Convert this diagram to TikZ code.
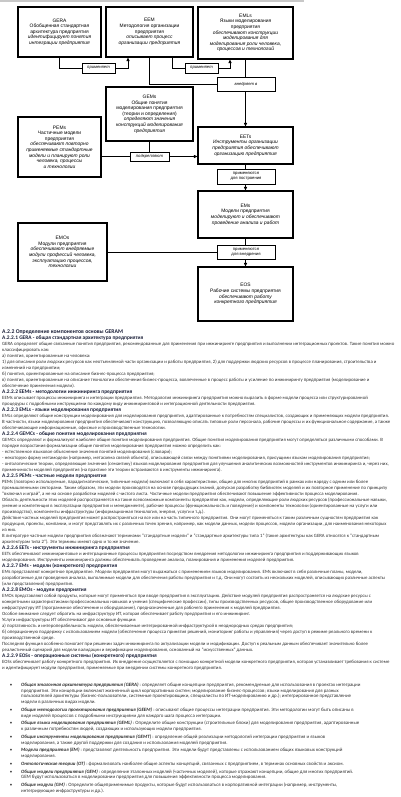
\documentclass[tikz,border=0pt]{standalone}
\usepackage{fontspec}
\setmainfont{Carlito}
\newfontfamily\diafont{Liberation Sans}
\usetikzlibrary{arrows.meta}
\definecolor{rulegray}{RGB}{200,200,200}
\definecolor{bodytext}{RGB}{45,45,45}
\definecolor{headtext}{RGB}{25,30,55}
\tikzset{
  blk/.style={draw=black, line width=1.1pt, align=center, inner sep=0pt,
    font=\diafont\fontsize{4.9}{5.6}\selectfont},
  lbl/.style={draw=black, line width=0.9pt, fill=white, align=center, inner sep=0pt,
    font=\diafont\itshape\fontsize{4.2}{4.6}\selectfont},
  wire/.style={line width=0.9pt},
  arr/.style={wire, -{Triangle[length=3.5pt,width=3pt]}},
  para/.style={anchor=north west, inner sep=0pt, align=left, text=bodytext},
}
\newcommand{\hd}[1]{{\bfseries\color{headtext}\fontsize{5.4}{6}\selectfont #1}}
\newcommand{\bl}[1]{\llap{\textbullet\hspace{9pt}}{\bfseries\itshape #1}}

\begin{document}
\begin{tikzpicture}[x=1pt, y=-1pt]
    \useasboundingbox (0,0) rectangle (400,797);
    \fill[rulegray] (0,0) rectangle (304,2);

    % blocks of the scheme
    \node[blk, minimum width=83pt, minimum height=50pt] (gera) at (59.5,32)
        {GERA\\Обобщенная стандартная\\архитектура предприятия\\
         \textit{идентифицирует понятия}\\\textit{интеграции предприятия}};
    \node[blk, minimum width=87pt, minimum height=50pt] (eem) at (149.5,32)
        {EEM\\Методология организации\\предприятия\\
         \textit{описывает процесс}\\\textit{организации предприятия}};
    \node[blk, minimum width=95pt, minimum height=52pt] (emls) at (245.5,33)
        {EMLs\\Языки моделирования\\предприятия\\
         \textit{обеспечивают конструкции}\\\textit{моделирования для}\\
         \textit{моделирования роли человека,}\\\textit{процессов и технологий}};
    \node[blk, minimum width=87pt, minimum height=54pt] (gems) at (149.5,114)
        {GEMs\\Общие понятия\\моделирования предприятия\\(теории и определения)\\
         \textit{определяют значения}\\\textit{конструкций моделирования}\\
         \textit{предприятия}};
    \node[blk, minimum width=83pt, minimum height=60pt] (pems) at (59.5,147)
        {PEMs\\Частичные модели\\предприятия\\
         \textit{обеспечивают повторно}\\\textit{применяемые стандартные}\\
         \textit{модели и планируют роли}\\\textit{человека, процессы}\\
         \textit{и технологии}};
    \node[blk, minimum width=95pt, minimum height=37pt] (eets) at (245.5,145.5)
        {EETs\\\textit{Инструменты организации}\\\textit{предприятия обеспечивают}\\
         \textit{организацию предприятия}};
    \node[blk, minimum width=95pt, minimum height=47pt] (ems) at (245.5,214.5)
        {EMs\\Модели предприятия\\\textit{моделируют и обеспечивают}\\
         \textit{проведение анализа и работ}};
    \node[blk, minimum width=89pt, minimum height=58pt] (emos) at (62.5,252)
        {EMOs\\Модули предприятия\\\textit{обеспечивают внедряемые}\\
         \textit{модули профессий человека,}\\\textit{эксплуатацию процессов,}\\
         \textit{технологии}};
    \node[blk, minimum width=95pt, minimum height=54pt] (eos) at (245.5,294)
        {EOS\\Рабочие системы предприятия\\\textit{обеспечивают работу}\\
         \textit{конкретного предприятия}};

    % labels on the links
    \node[lbl, minimum width=33pt, minimum height=10pt] (prim1) at (98.5,68) {применяет};
    \node[lbl, minimum width=33pt, minimum height=10pt] (prim2) at (201.5,68) {применяет};
    \node[lbl, minimum width=58pt, minimum height=14pt] (vnedr) at (246,84) {внедряет в};
    \node[lbl, minimum width=39pt, minimum height=9pt] (podkr) at (149.5,156.5) {подкрепляют};
    \node[lbl, minimum width=58pt, minimum height=15pt, font=\diafont\fontsize{4.2}{4.8}\selectfont]
        (postr) at (246,176.5) {применяются\\для построения};
    \node[lbl, minimum width=58pt, minimum height=14pt, font=\diafont\fontsize{4.2}{4.8}\selectfont]
        (vnedr2) at (246,252) {применяются\\для внедрения};

    % links
    \draw[wire] (gera.south) |- (prim1.west);
    \draw[arr] (prim1.east) -| ([xshift=-21.5pt]eem.south);
    \draw[wire] ([xshift=22.5pt]eem.south) |- (prim2.west);
    \draw[arr] (prim2.east) -| ([xshift=-15.5pt]emls.south);
    \draw[wire] (eem.south) |- (vnedr.west);
    \draw[wire] (emls.south) -- (vnedr.north -| emls.south);
    \draw[arr] (vnedr.south -| emls.south) -- (eets.north);
    \draw[wire] (gems.south) -- (podkr.north);
    \draw[wire] (podkr.west -| pems.east) -- (podkr.west);
    \draw[arr] (podkr.east) -- (podkr.east -| eets.west);
    \draw[wire] (eets.south) -- (postr.north -| eets.south);
    \draw[arr] (postr.south -| eets.south) -- (ems.north);
    \draw[wire] (ems.south) -- (vnedr2.north -| ems.south);
    \draw[arr] (vnedr2.south -| ems.south) -- (eos.north);
    \draw[wire] (emos.east) -- (vnedr2.west);

    % text of the page
    \node[para, font=\fontsize{4.8}{6}\selectfont] (text) at (2,330) {%
{\bfseries\color{headtext}\fontsize{5.7}{6}\selectfont A.2.2 Определение компонентов основы GERAM}\\
\hd{A.2.2.1 GERA - общая стандартная архитектура предприятия}\\
GERA определяет общие связанные понятия предприятия, рекомендованные для применения при инжиниринге предприятия и выполнении интеграционных проектов. Такие понятия можно\\
классифицировать как:\\
а) понятия, ориентированные на человека:\\
1) для описания роли людских ресурсов как неотъемлемой части организации и работы предприятия, 2) для поддержки людских ресурсов в процессе планирования, строительства и\\
изменений на предприятии;\\
б) понятия, ориентированные на описание бизнес-процесса предприятия;\\
в) понятия, ориентированные на описание технологии обеспечения бизнес-процесса, вовлеченные в процесс работы и усиление по инжинирингу предприятия (моделирование и\\
обеспечение применения модели).\\
\hd{A.2.2.2 EEMs - методологии инжиниринга предприятия}\\
EEMs описывает процессы инжиниринга и интеграции предприятия. Методология инжиниринга предприятия можно выразить в форме модели процесса или структурированной\\
процедуры с подробными инструкциями по каждому виду инжиниринговой и интеграционной деятельности предприятия.\\
\hd{A.2.2.3 EMLs - языки моделирования предприятия}\\
EMLs определяют общие конструкции моделирования для моделирования предприятия, адаптированные к потребностям специалистов, создающих и применяющих модели предприятия.\\
В частности, языки моделирования предприятия обеспечивают конструкцию, позволяющую описать типовые роли персонала, рабочие процессы и их функциональное содержание, а также\\
обеспечивающие информационные, офисные и производственные технологии.\\
\hd{A.2.2.4 GEMCs - общие понятия моделирования предприятия}\\
GEMCs определяют и формализуют наиболее общие понятия моделирования предприятия. Общие понятия моделирования предприятия могут определяться различными способами. В\\
порядке возрастания формализации общие понятия моделирования предприятия можно определить как:\\
- естественное языковое объяснение значения понятий моделирования (словари);\\
- некоторую форму метамодели (например, метасхема связей объекта), описывающей связи между понятиями моделирования, присущими языкам моделирования предприятия;\\
- онтологические теории, определяющие значения (семантику) языков моделирования предприятия для улучшения аналитических возможностей инструментов инжиниринга и, через них,\\
применимости моделей предприятия (на практике эти теории встраиваются в инструменты инжиниринга).\\
\hd{A.2.2.5 PEMs - частные модели предприятия}\\
PEMs (повторно используемые, парадигматические, типичные модели) включают в себя характеристики, общие для многих предприятий в рамках или наряду с одним или более\\
промышленными секторами. Таким образом, эти модели производятся на основе предыдущих знаний, допуская разработку библиотек моделей и их повторное применение по принципу\\
"включил и играй", а не на основе разработки моделей с чистого листа. Частичные модели предприятия обеспечивают повышение эффективности процесса моделирования.\\
Область деятельности этих моделей распространяется на такие всевозможные компоненты предприятия как, модели, определяющие роли людских ресурсов (профессиональные навыки,\\
умение и компетенция в эксплуатации предприятия и менеджменте), рабочие процессы (функциональность и поведение) и компоненты технологии (ориентированные на услуги или\\
производство), компоненты инфраструктуры (информационная технология, энергия, услуги и т.д.).\\
Действие частных моделей предприятия может распространяться на все или на часть типичного предприятия. Они могут применяться к таким различным сущностям предприятия как\\
продукция, проекты, компании, и могут представлять их с различных точек зрения, например, как модели данных, модели процессов, модели организации, для наименования некоторых\\
из них.\\
В литературе частные модели предприятия обозначают терминами "стандартные модели" и "стандартные архитектуры типа 1" (такие архитектуры как GERA относятся к "стандартным\\
архитектурам типа 2"). Эти термины имеют одно и то же значение.\\
\hd{A.2.2.6 EETs - инструменты инжиниринга предприятия}\\
EETs обеспечивают инжиниринговые и интеграционные процессы предприятия посредством внедрения методологии инжиниринга предприятия и поддерживающих языков\\
моделирования. Инструменты инжиниринга должны обеспечивать проведение анализа, планирования и применения моделей предприятия.\\
\hd{A.2.2.7 EMs - модели (конкретного) предприятия}\\
EMs представляют конкретное предприятие. Модели предприятия могут выражаться с применением языков моделирования. EMs включают в себя различные планы, модели,\\
разработанные для проведения анализа, выполнимые модели для обеспечения работы предприятия и т.д. Они могут состоять из нескольких моделей, описывающих различные аспекты\\
(или представления) предприятия.\\
\hd{A.2.2.8 EMOs - модули предприятия}\\
EMOs представляют собой продукты, которые могут применяться при вводе предприятия в эксплуатацию. Действие модулей предприятия распространяется на людские ресурсы с\\
конкретными характеристиками профессиональных навыков и умения (специфические профессии), типы производственных ресурсов, общее производственное оборудование или\\
инфраструктуру ИТ (программное обеспечение и оборудование), предназначенные для рабочего применения к моделей предприятия.\\
Особое внимание следует обратить на инфраструктуру ИТ, которая обеспечивает работу предприятия и его инжиниринг.\\
Услуги инфраструктуры ИТ обеспечивают две основные функции:\\
а) портативность и интероперабельность модели, обеспечиваемые интегрированной инфраструктурой в неоднородных средах предприятия;\\
б) операционную поддержку с использованием модели (обеспечение процесса принятия решений, мониторинг работы и управления) через доступ в режиме реального времени к\\
производственной среде.\\
Последняя функция особенно помогает при решении задач инжиниринга по актуализации модели и модификации. Доступ к реальным данным обеспечивает значительно более\\
реалистичный сценарий для модели валидации и верификации моделирования, основанный на "искусственных" данных.\\
\hd{A.2.2.9 EOSs - операционные системы (конкретного) предприятия}\\
EOSs обеспечивает работу конкретного предприятия. Их внедрение осуществляется с помощью конкретной модели конкретного предприятия, которая устанавливает требования к системе\\
и идентифицирует модули предприятия, применяемые при внедрении системы конкретного предприятия.};

    % list of the GERAM parts
    \node[para, font=\fontsize{4.9}{5.8}\selectfont] (list) at (21,682.5) {%
\bl{Общая эталонная архитектура предприятия (GERA)} : определяет общие концепции предприятия, рекомендуемые для использования в проектах интеграции\\
предприятия. Эти концепции включают жизненный цикл корпоративных систем; моделирование бизнес-процессов; языки моделирования для разных\\
пользователей архитектуры (бизнес-пользователи, системные проектировщики, специалисты по ИТ-моделированию и др.); интегрированное представление\\
модели в различных видах модели.\\[1.9pt]
\bl{Общие методологии проектирования предприятия (GEEM)} : описывают общие процессы интеграции предприятия. Эти методологии могут быть описаны в\\
виде моделей процессов с подробными инструкциями для каждого шага процесса интеграции.\\[1.9pt]
\bl{Общие языки моделирования предприятия (GEML)} : Определите общие конструкции (строительные блоки) для моделирования предприятия, адаптированные\\
к различным потребностям людей, создающих и использующих модели предприятия.\\[1.9pt]
\bl{Общие инструменты моделирования предприятия (GEMT)} : определение общей реализации методологий интеграции предприятия и языков\\
моделирования, а также другой поддержки для создания и использования моделей предприятия.\\[1.9pt]
\bl{Модели предприятия (EM)} : представляют деятельность предприятия. Эти модели будут представлены с использованием общих языковых конструкций\\
моделирования.\\[1.9pt]
\bl{Онтологические теории (OT)} : формализовать наиболее общие аспекты концепций, связанных с предприятием, в терминах основных свойств и аксиом.\\[1.9pt]
\bl{Общие модели предприятия (GEM)} : определение эталонных моделей (частичных моделей), которые отражают концепции, общие для многих предприятий.\\
GEM будут использоваться в моделировании предприятия для повышения эффективности процесса моделирования.\\[1.9pt]
\bl{Общие модули (GM)} : Определите общеприменимые продукты, которые будут использоваться в корпоративной интеграции (например, инструменты,\\
интегрирующие инфраструктуры и др.).};
\end{tikzpicture}
\end{document}
